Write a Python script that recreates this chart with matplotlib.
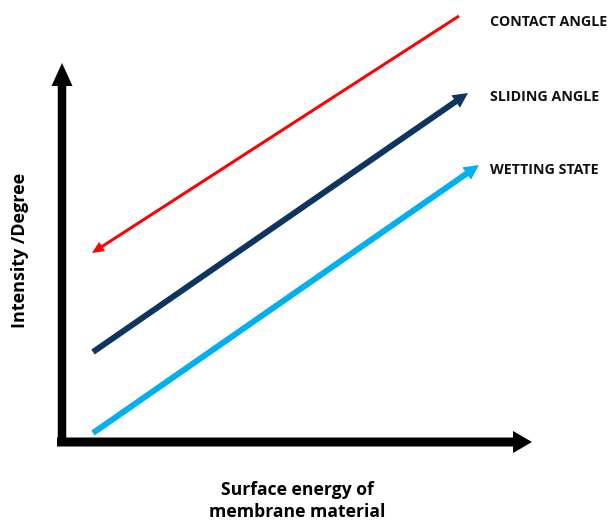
import matplotlib.pyplot as plt

# schematic lines: (tail x, tail y) -> (head x, head y), in picture pixels
names = ['CONTACT ANGLE', 'SLIDING ANGLE', 'WETTING STATE']
tails = [(459, 16), (93, 352), (93, 433)]
heads = [(92, 253), (468, 93), (479, 165)]
colors = ['#ff0000', '#0e3560', '#00b0f0']
shaft = [3.0, 6.0, 6.0]
head_w = [11, 15, 15]
head_l = [12, 15, 15]
label_pos = [(490, 22), (490, 97), (490, 170)]

plt.rcParams['font.family'] = ['Open Sans', 'DejaVu Sans']

fig = plt.figure(figsize=(6.09, 5.25), dpi=100)
ax = fig.add_axes([0, 0, 1, 1])
ax.set_xlim(0, 609)
ax.set_ylim(525, 0)
ax.axis('off')

# axes arrows
ax.arrow(62, 446, 0, 63 - 446, width=8.5, head_width=21, head_length=23,
         length_includes_head=True, color='black', lw=0)
ax.arrow(57, 442, 532 - 57, 0, width=9, head_width=22, head_length=19,
         length_includes_head=True, color='black', lw=0)

for name, t, h, c, s, hw, hl, lp in zip(names, tails, heads, colors, shaft,
                                         head_w, head_l, label_pos):
    ax.arrow(t[0], t[1], h[0] - t[0], h[1] - t[1], width=s, head_width=hw,
             head_length=hl, length_includes_head=True, color=c, lw=0)
    ax.text(lp[0], lp[1], name, fontsize=10.3, fontweight='bold',
            va='center', ha='left', color='#111111')

ax.text(20, 250, 'Intensity /Degree', rotation=90, fontsize=13,
        fontweight='bold', ha='center', va='center')
ax.text(297, 501, 'Surface energy of\nmembrane material', fontsize=12.6,
        fontweight='bold', ha='center', va='center', linespacing=1.25)

fig.savefig('out.png', dpi=100)
